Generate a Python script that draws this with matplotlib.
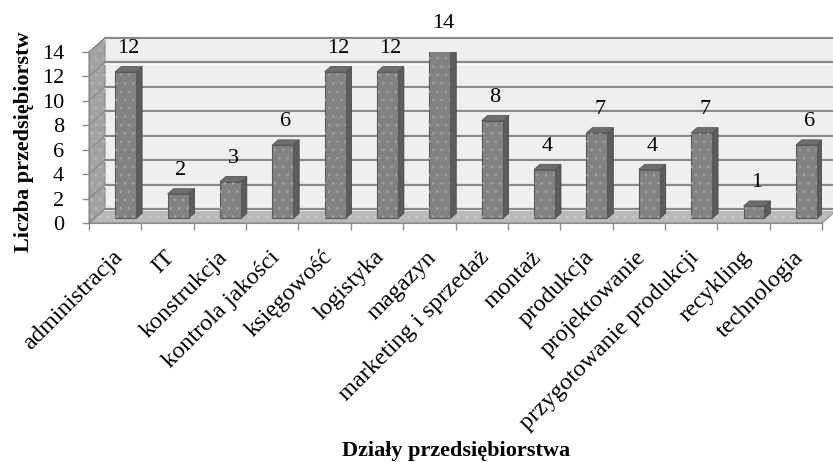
import matplotlib
matplotlib.use("Agg")
import matplotlib.pyplot as plt
from matplotlib.patches import Polygon

# Number of companies per department
categories = ["administracja", "IT", "konstrukcja", "kontrola jakości", "księgowość",
              "logistyka", "magazyn", "marketing i sprzedaż", "montaż", "produkcja",
              "projektowanie", "przygotowanie produkcji", "recykling", "technologia"]
values = [12, 2, 3, 6, 12, 12, 14, 8, 4, 7, 4, 7, 1, 6]
y_ticks = [0, 2, 4, 6, 8, 10, 12, 14]

plt.rcParams["font.family"] = ["Liberation Serif", "DejaVu Serif"]
plt.rcParams["hatch.linewidth"] = 0.6

W, H = 833, 462
fig = plt.figure(figsize=(W / 100, H / 100), dpi=100)
ax = fig.add_axes([89 / W, (H - 223) / H, (822 - 89) / W, (223 - 52) / H])
n = len(categories)
ymax = 14
ax.set_xlim(0, n)
ax.set_ylim(0, ymax)

# oblique depth of the 3-D box, in data units
dx, dy = 0.306, 1.15


def textured(pts, face, dots, edge="none", lw=0.0, z=1):
    """Filled polygon with a fine dotted texture on top."""
    ax.add_patch(Polygon(pts, closed=True, facecolor=face, edgecolor=edge, lw=lw,
                         clip_on=False, zorder=z))
    ax.add_patch(Polygon(pts, closed=True, facecolor="none", edgecolor=dots, lw=0,
                         hatch="..", clip_on=False, zorder=z + 0.01))


# back wall
ax.add_patch(Polygon([(dx, dy), (n + dx + 1, dy), (n + dx + 1, ymax + dy), (dx, ymax + dy)],
                     closed=True, facecolor="#efefef", edgecolor="none",
                     clip_on=False, zorder=1))
# left side wall
textured([(0, 0), (dx, dy), (dx, ymax + dy), (0, ymax)], "#a3a3a3", "#b8b8b8",
         edge="#8a8a8a", lw=0.8)
# floor
textured([(0, 0), (n, 0), (n + dx, dy), (dx, dy)], "#b9b9b9", "#cdcdcd",
         edge="#8e8e8e", lw=0.8)

# gridlines on the back wall and the side wall
for t in y_ticks:
    ax.plot([dx, n + dx + 1], [t + dy - 0.1, t + dy - 0.1], color="#fbfbfb", lw=1.2,
            clip_on=False, zorder=2)
    ax.plot([dx, n + dx + 1], [t + dy, t + dy], color="#8a8a8a", lw=1.6,
            clip_on=False, zorder=2.1)
    ax.plot([0, dx], [t, t + dy], color="#8a8a8a", lw=0.9, clip_on=False, zorder=2)

# bars: front faces from the library, tops and sides from the bar geometry
f_front, f_back = 0.33, 0.70
bw = 0.40
base = f_front * dy
xs = [i + 0.4 + f_front * dx + bw / 2 for i in range(n)]
bars = ax.bar(xs, values, width=bw, bottom=base, color="#828282",
              edgecolor="#5a5a5a", linewidth=0.8, zorder=5)

ddx = (f_back - f_front) * dx
ddy = (f_back - f_front) * dy
for b, v in zip(bars, values):
    x0, w = b.get_x(), b.get_width()
    y0, h = b.get_y(), b.get_height()
    top = y0 + h
    ax.add_patch(Polygon([(x0, y0), (x0 + w, y0), (x0 + w, top), (x0, top)],
                         closed=True, facecolor="none", edgecolor="#a2a2a2", lw=0,
                         hatch="..", zorder=5.1))
    # right side face
    ax.add_patch(Polygon([(x0 + w, y0), (x0 + w + ddx, y0 + ddy),
                          (x0 + w + ddx, top + ddy), (x0 + w, top)],
                         closed=True, facecolor="#5c5c5c", edgecolor="#4a4a4a",
                         lw=0.6, zorder=4))
    # top face
    ax.add_patch(Polygon([(x0, top), (x0 + w, top), (x0 + w + ddx, top + ddy),
                          (x0 + ddx, top + ddy)],
                         closed=True, facecolor="#6e6e6e", edgecolor="#555555",
                         lw=0.6, zorder=4))
    ax.text(x0 + w / 2 + ddx / 2, top + 1.55, str(v), ha="center", va="baseline",
            fontsize=16, color="black", zorder=6, clip_on=False)

# axes styling
for s in ["top", "right"]:
    ax.spines[s].set_visible(False)
ax.spines["left"].set_color("#8a8a8a")
ax.spines["bottom"].set_color("#8a8a8a")
ax.spines["left"].set_zorder(3)
ax.spines["bottom"].set_zorder(3)
ax.patch.set_visible(False)

ax.set_yticks(y_ticks)
ax.set_yticklabels([str(t) for t in y_ticks], fontsize=16)
ax.tick_params(axis="y", length=5, width=1, color="#8a8a8a", pad=13)

ax.set_xticks([i + 0.72 for i in range(n)])
ax.set_xticklabels(categories, rotation=45, ha="right", va="top", fontsize=17.5)
ax.tick_params(axis="x", length=0, pad=17)
ax.set_xticks(range(n + 1), minor=True)
ax.tick_params(axis="x", which="minor", length=5, width=1, color="#8a8a8a")

fig.text(24 / W, 1 - 142 / H, "Liczba przedsiębiorstw", rotation=90, ha="center",
         va="center", fontsize=16, fontweight="bold")
fig.text(456 / W, 1 - 451 / H, "Działy przedsiębiorstwa", ha="center", va="center",
         fontsize=16, fontweight="bold")

fig.savefig("out.png", dpi=100)
